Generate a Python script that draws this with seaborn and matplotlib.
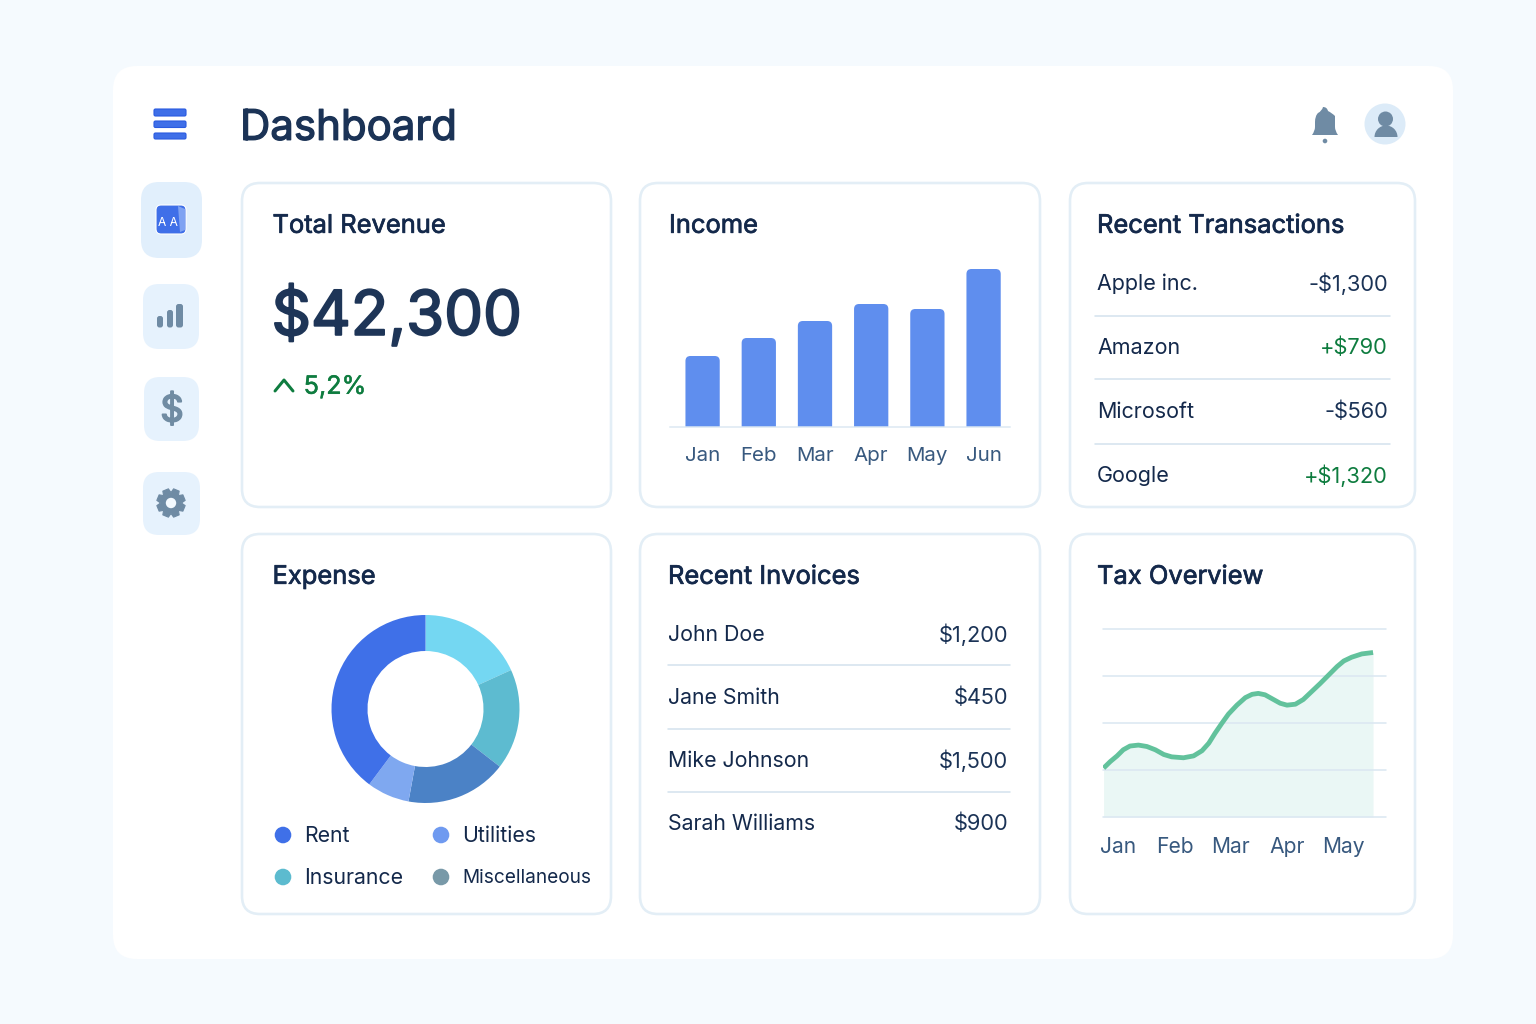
import numpy as np
import matplotlib
matplotlib.use("Agg")
import matplotlib.pyplot as plt
import matplotlib.patheffects as pe
from matplotlib.patches import FancyBboxPatch, Circle, Polygon, PathPatch, Wedge
from matplotlib.path import Path
import seaborn as sns

# ---- data ----
income_months = ["Jan", "Feb", "Mar", "Apr", "May", "Jun"]
income_values = [7.1, 8.9, 10.6, 12.3, 11.8, 15.8]

expense_slices = ["Other", "Insurance", "Miscellaneous", "Utilities", "Rent"]
expense_values = [18.2, 17.3, 17.4, 7.3, 39.8]
expense_colors = ["#74D7F2", "#5DBBD0", "#4B82C6", "#7FA8F0", "#3F70E8"]
legend_labels = ["Rent", "Utilities", "Insurance", "Miscellaneous"]
legend_colors = ["#3F70E8", "#6F9AF0", "#5CBBCF", "#7899A8"]

tax_months = ["Jan", "Feb", "Mar", "Apr", "May"]
tax_x = [-0.26, -0.14, -0.02, 0.09, 0.21, 0.36, 0.51, 0.66, 0.81, 0.95, 1.16, 1.34,
         1.49, 1.61, 1.72, 1.84, 1.96, 2.11, 2.26, 2.38, 2.49, 2.61, 2.73, 2.88,
         3.00, 3.15, 3.29, 3.44, 3.59, 3.74, 3.89, 4.01, 4.15, 4.33, 4.53]
tax_y = [1.04, 1.18, 1.30, 1.43, 1.51, 1.53, 1.50, 1.43, 1.33, 1.28, 1.26, 1.30,
         1.41, 1.57, 1.78, 1.99, 2.19, 2.38, 2.54, 2.61, 2.63, 2.60, 2.52, 2.42,
         2.38, 2.40, 2.50, 2.67, 2.84, 3.02, 3.20, 3.32, 3.40, 3.47, 3.50]

transaction_names = ["Apple inc.", "Amazon", "Microsoft", "Google"]
transaction_amounts = ["-$1,300", "+$790", "-$560", "+$1,320"]
invoice_names = ["John Doe", "Jane Smith", "Mike Johnson", "Sarah Williams"]
invoice_amounts = ["$1,200", "$450", "$1,500", "$900"]

# ---- palette / canvas ----
W, H = 1536, 1024
PAGE = "#F5FAFE"
INK = "#14294B"
TICK = "#38597F"
GREEN = "#0E7C3F"
SLATE = "#6F8BA4"
TILE = "#E6F2FD"
EDGE = "#E3EEF6"
RULE = "#D5E3EE"

sns.set_theme(style="white", rc={"font.family": "Inter"})
fig = plt.figure(figsize=(W / 100, H / 100), dpi=100, facecolor=PAGE)
bg = fig.add_axes([0, 0, 1, 1], zorder=0)
bg.set_xlim(0, W)
bg.set_ylim(H, 0)
bg.axis("off")


def px(pixels):
    return pixels * 72 / 100


def rounded(x0, y0, x1, y1, r, fc, ec="none", lw=0, z=1, host=None):
    p = FancyBboxPatch((x0, y0), x1 - x0, y1 - y0, boxstyle=f"round,pad=0,rounding_size={r}",
                       fc=fc, ec=ec, lw=lw, zorder=z, transform=bg.transData)
    (host or bg).add_artist(p) if host is not None else bg.add_patch(p)
    return p


def inset(x0, y0, x1, y1):
    a = fig.add_axes([x0 / W, 1 - y1 / H, (x1 - x0) / W, (y1 - y0) / H], zorder=2)
    a.patch.set_alpha(0)
    return a


def label(x, y, s, size, color=INK, ha="left", bold=0.0):
    t = bg.text(x, y + size * 0.09, s, fontsize=px(size), color=color, ha=ha, va="center", zorder=5)
    if bold:
        t.set_path_effects([pe.withStroke(linewidth=px(bold), foreground=color)])
    return t


# panel and cards
rounded(113, 66, 1453, 959, 24, "white")
cards = [(242, 183, 611, 507), (640, 183, 1040, 507), (1070, 183, 1415, 507),
         (242, 534, 611, 914), (640, 534, 1040, 914), (1070, 534, 1415, 914)]
for c in cards:
    rounded(*c, 18, "white", EDGE, px(2.6), z=2)

# header
label(240, 125, "Dashboard", 42, "#1B3356", bold=1.3)
for y0, y1 in [(109, 116), (121, 127.5), (133, 139)]:
    rounded(154, y0, 186, y1, 1.5, "#3F6FE8", "#2A5BE0", 0.8, z=3)

# bell
bell = Path(
    [(1312, 135), (1315, 131), (1315, 127), (1315, 122), (1315, 116), (1318, 113), (1322, 111),
     (1323, 107), (1327, 107), (1328, 111), (1332, 113), (1335, 116), (1335, 122), (1335, 127),
     (1335, 131), (1338, 135), (1312, 135)],
    [Path.MOVETO, Path.CURVE3, Path.CURVE3, Path.LINETO, Path.CURVE3, Path.CURVE3, Path.CURVE3,
     Path.CURVE3, Path.CURVE3, Path.CURVE3, Path.CURVE3, Path.CURVE3, Path.CURVE3, Path.LINETO,
     Path.CURVE3, Path.CURVE3, Path.CLOSEPOLY])
bg.add_patch(PathPatch(bell, fc=SLATE, ec="none", zorder=3))
bg.add_patch(Circle((1325, 141), 2.3, fc=SLATE, ec="none", zorder=3))

# avatar
bg.add_patch(Circle((1385, 124), 20.5, fc="#DCEBF8", ec="none", zorder=3))
bg.add_patch(Circle((1385.5, 119), 7.5, fc=SLATE, ec="none", zorder=4))
bg.add_patch(Wedge((1386, 137), 11.5, 180, 360, fc=SLATE, ec="none", zorder=4))

# sidebar tiles
rounded(141, 182, 202, 258, 18, "#E1EFFC")
rounded(143, 284, 199, 349, 16, TILE)
rounded(144, 377, 199, 441, 16, TILE)
rounded(143, 472, 200, 535, 16, TILE)

rounded(156, 205, 186, 234, 5, "#3F6FE8", "white", 0.8, z=3)
bg.add_patch(Polygon([(178, 206), (185, 209), (185, 230), (180, 232)], fc="#7FA2F2", ec="none", zorder=4))
bg.text(168, 223, "A A", fontsize=px(12), color="white", ha="center", va="center", zorder=5)

for x0, x1, y0 in [(157, 163, 316), (167, 173, 310), (176, 183, 304)]:
    rounded(x0, y0, x1, 327.5, 2.5, SLATE, z=3)
label(172, 408, "$", 36, "#708CA3", ha="center", bold=1.8)

# gear
angles = np.linspace(0, 2 * np.pi, 8, endpoint=False) + np.pi / 8
gear_pts = []
for a in angles:
    for da, r in [(-0.38, 10.6), (-0.21, 14.4), (0.21, 14.4), (0.38, 10.6)]:
        gear_pts.append((171 + r * np.cos(a + da), 503 + r * np.sin(a + da)))
bg.add_patch(Polygon(gear_pts, fc=SLATE, ec=SLATE, lw=0.8, joinstyle="round", zorder=3))
bg.add_patch(Circle((171, 503), 5.2, fc="#F3F9FE", ec="none", zorder=4))

# card titles
for x, y, s in [(272.5, 224, "Total Revenue"), (669, 224, "Income"), (1097, 224, "Recent Transactions"),
                (272.5, 575, "Expense"), (668, 575, "Recent Invoices"), (1097, 575, "Tax Overview")]:
    label(x, y, s, 25.5, bold=0.7)

# total revenue
label(271.5, 311, "$42,300", 61.6, "#1E3557", bold=2.0)
bg.plot([275, 284, 293], [391, 380, 391], color=GREEN, lw=px(3), solid_capstyle="round",
        solid_joinstyle="round", zorder=5)
label(304, 385, "5,2%", 25.2, GREEN, bold=0.5)

# income bars: seaborn lays out the bars, rounded tops are drawn over their geometry
ax = inset(670, 261, 1010, 427)
sns.barplot(x=income_months, y=income_values, color="#5F8EEE", saturation=1, width=0.61, ax=ax)
ax.set_xlim(-0.58, 5.47)
ax.set_ylim(0, 16.6)
ax.set_yticks([])
ax.tick_params(axis="x", length=0, pad=px(20), labelsize=px(20.5), labelcolor=TICK)
sns.despine(ax=ax, left=True)
ax.spines["bottom"].set_color("#DCE8F2")
ax.spines["bottom"].set_linewidth(px(1.5))
for bar in list(ax.patches):
    corners = ax.transData.transform(bar.get_bbox().get_points())
    (x0, y0), (x1, y1) = bg.transData.inverted().transform(corners)
    top, bottom = min(y0, y1), max(y0, y1)
    cap = FancyBboxPatch((x0, top), x1 - x0, bottom + 12 - top, boxstyle="round,pad=0,rounding_size=5",
                         fc=bar.get_facecolor(), ec="none", transform=bg.transData, zorder=2)
    ax.add_patch(cap)
    cap.set_clip_box(ax.bbox)
    bar.set_visible(False)

# transactions
for i, (n, a) in enumerate(zip(transaction_names, transaction_amounts)):
    y = 282 + i * 64
    label(1097, y, n, 21.5)
    label(1388, y, a, 21.8, GREEN if a.startswith("+") else "#1B3356", ha="right")
for y in [316, 379, 444]:
    bg.plot([1095, 1390], [y, y], color=RULE, lw=px(1.6), zorder=3)

# expense donut
ax = inset(331.5, 615, 519.5, 803)
ax.pie(expense_values, colors=expense_colors, startangle=90, counterclock=False, radius=1,
       wedgeprops={"width": 36 / 94, "linewidth": 0})
ax.set_xlim(-1, 1)
ax.set_ylim(-1, 1)
ax.set_aspect("equal")

for (x, y), s, c in zip([(283, 835), (441, 835), (283, 877), (441, 877)], legend_labels, legend_colors):
    bg.add_patch(Circle((x, y), 8.3, fc=c, ec="none", zorder=3))
    label(x + 21, y - 0.5, s, 19 if s == "Miscellaneous" else 21.3)

# invoices
for i, (n, a) in enumerate(zip(invoice_names, invoice_amounts)):
    y = 633 + i * 63
    label(668, y, n, 21.3)
    label(1008, y, a, 21.8, "#1B3356", ha="right")
for y in [665, 729, 792]:
    bg.plot([668, 1010], [y, y], color=RULE, lw=px(1.6), zorder=3)

# tax overview
ax = inset(1103, 629, 1386, 817)
ax.fill_between(tax_x, tax_y, 0, color="#EAF7F5", lw=0, zorder=1)
sns.lineplot(x=tax_x, y=tax_y, color="#62C29C", lw=px(4.8), ax=ax, zorder=3, sort=False,
             solid_joinstyle="round", solid_capstyle="butt")
ax.set_xlim(-0.27, 4.76)
ax.set_ylim(0, 4)
ax.set_yticks(range(5))
ax.set_yticklabels([])
ax.set_xticks(range(len(tax_months)))
ax.set_xticklabels(tax_months)
ax.tick_params(axis="both", length=0)
ax.tick_params(axis="x", pad=px(20), labelsize=px(21), labelcolor=TICK)
ax.grid(axis="y", color="#DCE8F2", lw=px(1.6), zorder=2)
ax.set_axisbelow(False)
ax.grid(axis="x", visible=False)
for name, sp in ax.spines.items():
    sp.set_visible(False)
for line in ax.get_ygridlines():
    line.set_clip_on(False)
    line.set_zorder(2)

fig.savefig("out.png", dpi=100, facecolor=PAGE)
